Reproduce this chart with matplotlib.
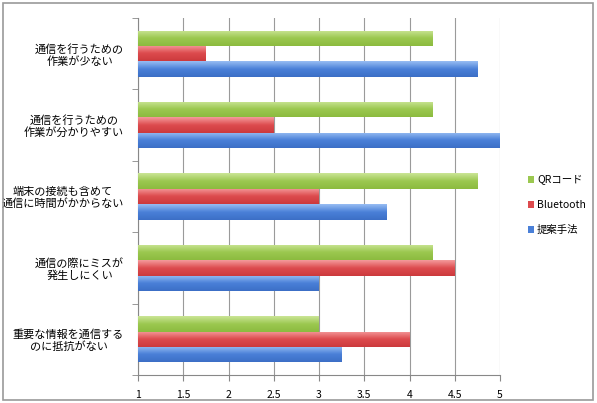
import matplotlib
matplotlib.use("Agg")
import matplotlib.pyplot as plt
import numpy as np
from matplotlib.colors import LinearSegmentedColormap
from matplotlib.patches import Rectangle

plt.rcParams['font.family'] = ['Noto Sans CJK JP', 'DejaVu Sans']

categories = ["通信を行うための\n作業が少ない",
              "通信を行うための\n作業が分かりやすい",
              "端末の接続も含めて\n通信に時間がかからない",
              "通信の際にミスが\n発生しにくい",
              "重要な情報を通信する\nのに抵抗がない"]
series_names = ["QRコード", "Bluetooth", "提案手法"]
qr = [4.25, 4.25, 4.75, 4.25, 3.0]
bluetooth = [1.75, 2.5, 3.0, 4.5, 4.0]
proposed = [4.75, 5.0, 3.75, 3.0, 3.25]
xticks = [1, 1.5, 2, 2.5, 3, 3.5, 4, 4.5, 5]

# (legend colour, top of gradient, bottom of gradient)
colors = [("#9BC850", "#CBE596", "#8CBB3F"),
          ("#DD4B4E", "#F49A9B", "#CC3A3D"),
          ("#4A80D8", "#97BDF3", "#3C6FC6")]

fig = plt.figure(figsize=(5.97, 4.03), dpi=100)
ax = fig.add_axes([138/597, 28/403, 362/597, 357/403])

fig.patches.append(Rectangle((3/597, 3/403), 590/597, 397/403, transform=fig.transFigure,
                             fill=False, edgecolor="#9a9a9a", linewidth=1.2))

n = len(categories)
pos = np.arange(n)[::-1]
h = 0.215
offsets = [h, 0, -h]
left = 1

for vals, off, (c, ctop, cbot), name in zip([qr, bluetooth, proposed], offsets, colors, series_names):
    bars = ax.barh(pos + off, np.array(vals) - left, left=left, height=h, color=c,
                   label=name, edgecolor="none", zorder=3)
    cmap = LinearSegmentedColormap.from_list("g", [cbot, c, ctop])
    grad = np.linspace(0, 1, 64).reshape(-1, 1)
    for b in bars:
        x0, y0 = b.get_x(), b.get_y()
        w, hh = b.get_width(), b.get_height()
        im = ax.imshow(grad, cmap=cmap, aspect="auto", origin="lower",
                       extent=[x0, x0 + w, y0, y0 + hh], zorder=4)
        im.set_clip_path(b)

ax.set_xlim(1, 5)
ax.set_ylim(-0.5, n - 0.5)
ax.set_xticks(xticks)
ax.set_xticklabels([f"{t:g}" for t in xticks], fontsize=7.5)
ax.set_yticks(pos)
ax.set_yticklabels(categories, fontsize=8, multialignment="center", linespacing=1.15)
ax.set_yticks(np.arange(n + 1) - 0.5, minor=True)
ax.tick_params(axis="y", which="major", length=0, pad=10)
ax.tick_params(axis="y", which="minor", length=4, color="#888888")
ax.tick_params(axis="x", length=4, color="#888888", pad=7)
ax.grid(axis="x", color="#9a9a9a", linewidth=0.8, zorder=0)
ax.set_axisbelow(True)
for s in ["top", "right"]:
    ax.spines[s].set_visible(False)
for s in ["left", "bottom"]:
    ax.spines[s].set_color("#888888")
    ax.spines[s].set_linewidth(0.8)

handles, labels = ax.get_legend_handles_labels()
leg = fig.legend(handles, labels, loc="center left", bbox_to_anchor=(0.868, 0.491),
                 frameon=False, fontsize=7.5, handlelength=0.6, handleheight=0.6,
                 handletextpad=0.3, labelspacing=1.45)

fig.savefig("out.png", dpi=100)
